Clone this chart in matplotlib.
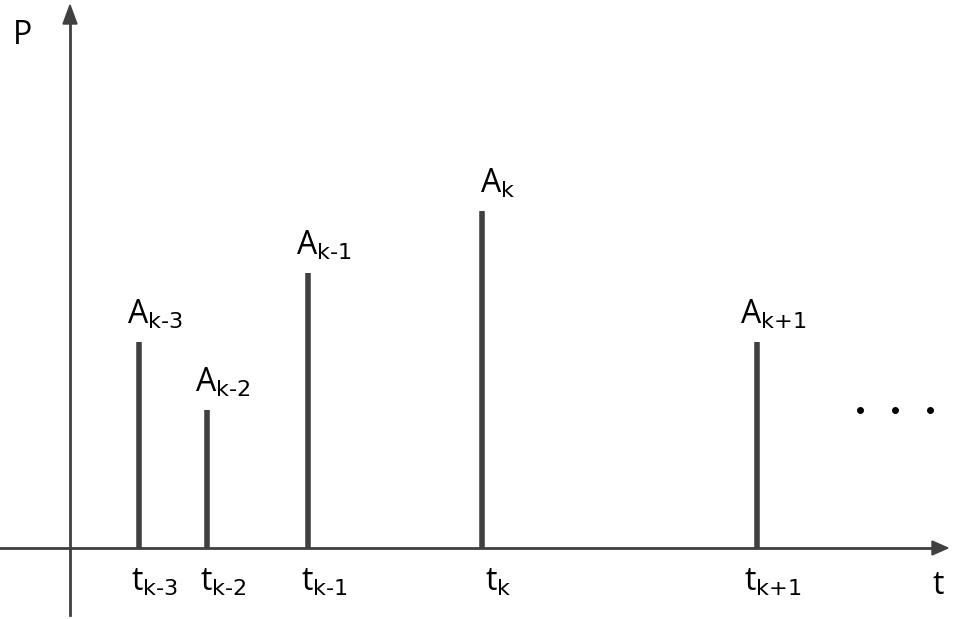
import matplotlib.pyplot as plt

plt.rcParams["font.family"] = ["Open Sans", "DejaVu Sans"]
plt.rcParams["mathtext.default"] = "regular"

# pulse positions (pixels from left) and heights (pixels above t-axis)
positions = [139, 207, 308, 482, 757]
heights = [206, 138, 275, 337, 206]
amp_labels = ["k-3", "k-2", "k-1", "k", "k+1"]

col = "#404040"
base = 548

fig = plt.figure(figsize=(9.63, 6.19), dpi=100)
ax = fig.add_axes((0, 0, 1, 1))
ax.set_xlim(0, 963)
ax.set_ylim(619, 0)
ax.axis("off")

# axes with arrows
ax.plot([0, 935], [base, base], color=col, lw=2)
ax.fill([948, 932, 932], [base, base - 7, base + 7], color=col)
ax.plot([70, 70], [615, 20], color=col, lw=2)
ax.fill([70, 63, 77], [5, 24, 24], color=col)

for x, h, s in zip(positions, heights, amp_labels):
    ax.plot([x, x], [base, base - h], color=col, lw=4, solid_capstyle="butt")
    ax.text(x + 16, base - h - 10, rf"$A_{{\text{{{s}}}}}$", fontsize=23,
            color="black", ha="center", va="bottom")
    ax.text(x + 16, 582, rf"$t_{{\text{{{s}}}}}$", fontsize=23, color="black",
            ha="center", va="center")

ax.text(22, 35, "P", fontsize=23, ha="center", va="center")
ax.text(938, 586, "t", fontsize=23, ha="center", va="center")
for dx in (860, 895, 930):
    ax.plot(dx, 410, "o", color="black", markersize=4)

fig.savefig("out.png", dpi=100)
